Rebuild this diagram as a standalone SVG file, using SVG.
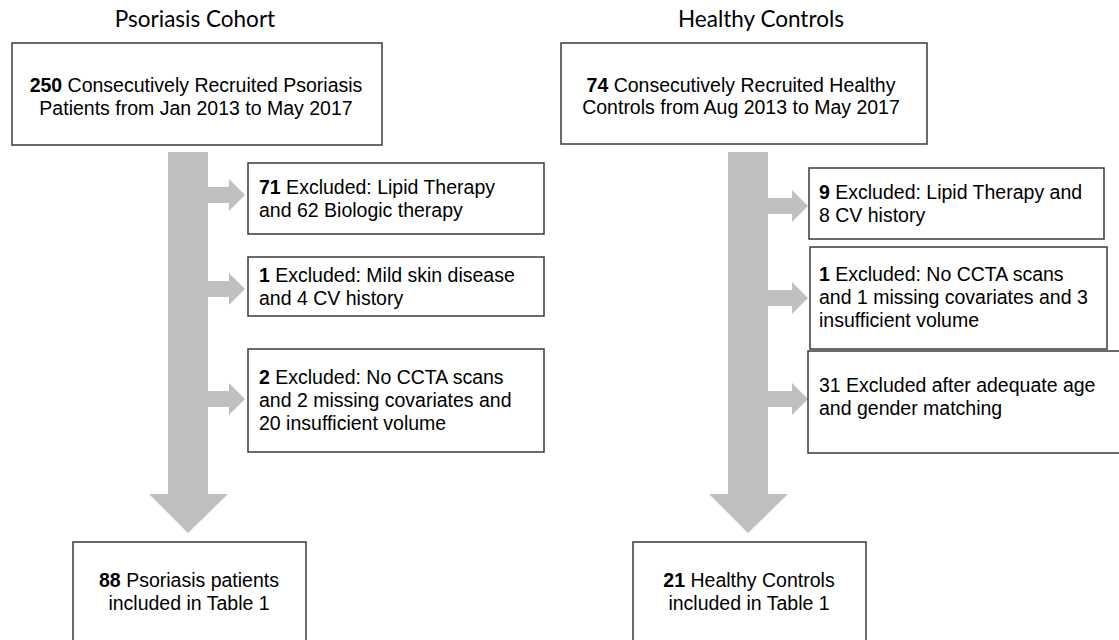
<svg xmlns="http://www.w3.org/2000/svg" width="1119" height="640" viewBox="0 0 1119 640">
<style>
.box{fill:#ffffff;stroke:#3a3a3a;stroke-width:1.5}
.arrow{fill:#bfbfbf;stroke:none}
.t{font-family:"Liberation Sans",Arial,sans-serif;font-size:19.5px;fill:#000}
.c{text-anchor:middle}
.title{font-family:Lato,"Open Sans",sans-serif;font-size:22.5px;fill:#000;text-anchor:middle}
.b{font-weight:bold}
</style>
<rect width="1119" height="640" fill="#ffffff"/>
<g id="connectors">
<path class="arrow" d="M168,152 H208 V494 H228 L188,533 L149,494 H168 Z"/>
<path class="arrow" d="M208,187 H229 V179 L245,195 L229,211 V203 H208 Z"/>
<path class="arrow" d="M208,281 H229 V273 L245,289 L229,305 V297 H208 Z"/>
<path class="arrow" d="M208,391 H229 V383 L245,399 L229,415 V407 H208 Z"/>
<path class="arrow" d="M728,152 H768 V494 H788 L748,533 L709,494 H728 Z"/>
<path class="arrow" d="M768,198 H792 V190 L808,206 L792,222 V214 H768 Z"/>
<path class="arrow" d="M768,290 H792 V282 L808,298 L792,314 V306 H768 Z"/>
<path class="arrow" d="M768,391 H792 V383 L808,399 L792,415 V407 H768 Z"/>
</g>
<g id="title-psoriasis"><text class="title" x="195" y="27">Psoriasis Cohort</text></g>
<g id="title-healthy"><text class="title" x="761" y="27">Healthy Controls</text></g>
<g id="psoriasis-recruited">
<rect class="box" x="12" y="43" width="370" height="102"/>
<text class="t c" x="196" y="92"><tspan class="b">250</tspan> Consecutively Recruited Psoriasis</text>
<text class="t c" x="196" y="115">Patients from Jan 2013 to May 2017</text>
</g>
<g id="psoriasis-excl1">
<rect class="box" x="248" y="163" width="296" height="71"/>
<text class="t" x="259" y="194"><tspan class="b">71</tspan> Excluded: Lipid Therapy</text>
<text class="t" x="259" y="217">and 62 Biologic therapy</text>
</g>
<g id="psoriasis-excl2">
<rect class="box" x="248" y="257" width="296" height="59"/>
<text class="t" x="259" y="282"><tspan class="b">1</tspan> Excluded: Mild skin disease</text>
<text class="t" x="259" y="305">and 4 CV history</text>
</g>
<g id="psoriasis-excl3">
<rect class="box" x="248" y="349" width="296" height="103"/>
<text class="t" x="259" y="384"><tspan class="b">2</tspan> Excluded: No CCTA scans</text>
<text class="t" x="259" y="407">and 2 missing covariates and</text>
<text class="t" x="259" y="430">20 insufficient volume</text>
</g>
<g id="psoriasis-included">
<rect class="box" x="73" y="542" width="233" height="110"/>
<text class="t c" x="189" y="587"><tspan class="b">88</tspan> Psoriasis patients</text>
<text class="t c" x="189" y="610">included in Table 1</text>
</g>
<g id="healthy-recruited">
<rect class="box" x="561" y="43" width="366" height="101"/>
<text class="t c" x="741" y="92"><tspan class="b">74</tspan> Consecutively Recruited Healthy</text>
<text class="t c" x="741" y="114">Controls from Aug 2013 to May 2017</text>
</g>
<g id="healthy-excl1">
<rect class="box" x="809" y="168" width="295" height="71"/>
<text class="t" x="819" y="199"><tspan class="b">9</tspan> Excluded: Lipid Therapy and</text>
<text class="t" x="819" y="222">8 CV history</text>
</g>
<g id="healthy-excl2">
<rect class="box" x="810" y="247" width="297" height="102"/>
<text class="t" x="819" y="281"><tspan class="b">1</tspan> Excluded: No CCTA scans</text>
<text class="t" x="819" y="304">and 1 missing covariates and 3</text>
<text class="t" x="819" y="327">insufficient volume</text>
</g>
<g id="healthy-excl3">
<rect class="box" x="808" y="351" width="330" height="102"/>
<text class="t" x="819" y="392">31 Excluded after adequate age</text>
<text class="t" x="819" y="415">and gender matching</text>
</g>
<g id="healthy-included">
<rect class="box" x="633" y="542" width="233" height="110"/>
<text class="t c" x="749" y="587"><tspan class="b">21</tspan> Healthy Controls</text>
<text class="t c" x="749" y="610">included in Table 1</text>
</g>
</svg>
